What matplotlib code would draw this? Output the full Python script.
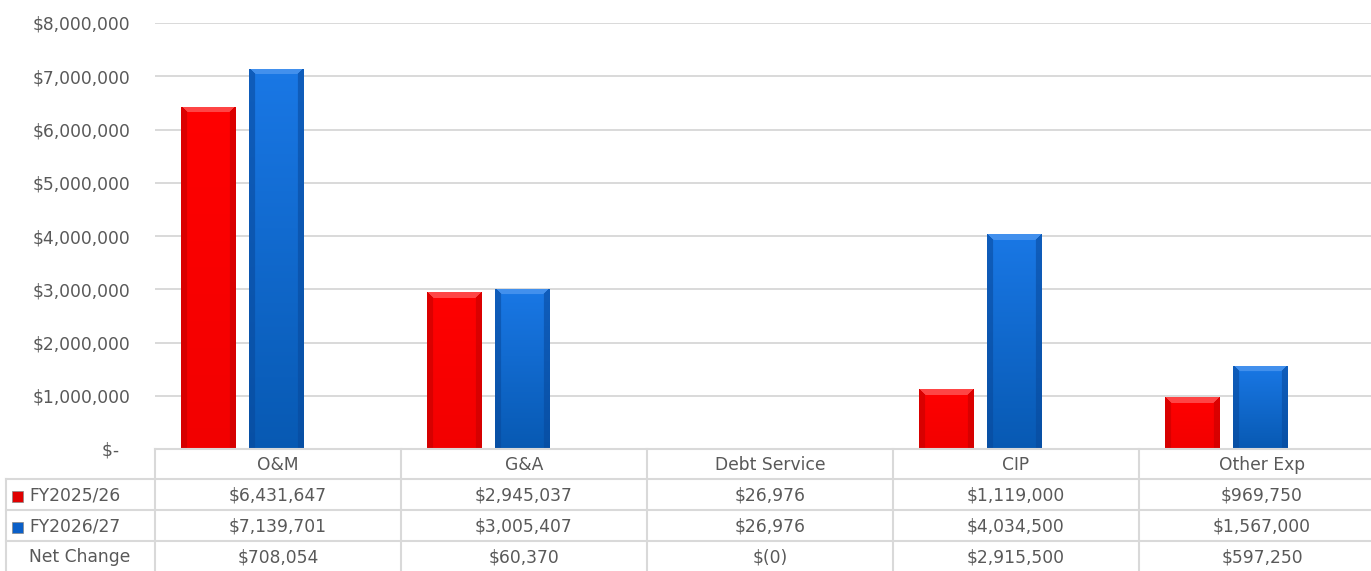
# Budget comparison: bars + data table underneath
import numpy as np
import matplotlib.pyplot as plt

categories = ['O&M', 'G&A', 'Debt Service', 'CIP', 'Other Exp']
fy2526 = [6431647, 2945037, 26976, 1119000, 969750]
fy2627 = [7139701, 3005407, 26976, 4034500, 1567000]
net_change = ['$708,054', '$60,370', '$(0)', '$2,915,500', '$597,250']
series_names = ['FY2025/26', 'FY2026/27']
yticks = [0, 1000000, 2000000, 3000000, 4000000, 5000000, 6000000, 7000000, 8000000]

W, H = 1371, 571
TXT = '#595959'
GRID = '#D9D9D9'
plt.rcParams['font.family'] = ['DejaVu Sans']
FS = 12.3

fig = plt.figure(figsize=(W / 100, H / 100), dpi=100)

# bar area (pixel layout of the reference)
left, right, top, bottom = 155, 1371, 23, 449
ax = fig.add_axes([left / W, 1 - bottom / H, (right - left) / W, (bottom - top) / H])
col_w = 246.0
xmin = -(242 - left) / col_w
ax.set_xlim(xmin, xmin + (right - left) / col_w)
ax.set_ylim(0, 8000000)
ax.set_yticks(yticks)
ax.set_yticklabels(['$-  '] + ['${:,}'.format(v) for v in yticks[1:]])
ax.tick_params(axis='y', length=0, pad=18, labelsize=FS, labelcolor=TXT)
ax.tick_params(axis='x', length=0, labelbottom=False)
ax.grid(axis='y', color=GRID, lw=1.4)
ax.set_axisbelow(True)
for s in ax.spines.values():
    s.set_visible(False)

x = np.arange(len(categories))
off, bw = 0.138, 0.22
red_bars = ax.bar(x - off, fy2526, bw, color='#F00000', zorder=2)
blue_bars = ax.bar(x + off, fy2627, bw, color='#0A5FC8', zorder=2)

px_per_unit_y = (bottom - top) / 8000000.0


def bevel_img(wpx, hpx, top_c, bot_c, edge_c, hi_c, b=6):
    wpx = max(int(round(wpx)), 2)
    hpx = max(int(round(hpx)), 2)
    t = np.linspace(0, 1, hpx)[:, None, None]
    img = np.array(top_c) * (1 - t) + np.array(bot_c) * t
    img = np.repeat(img, wpx, axis=1)
    xs = np.arange(wpx)
    ys = np.arange(hpx)
    dl = xs[None, :]
    dr = (wpx - 1 - xs)[None, :]
    dt = ys[:, None]
    side = np.minimum(dl, dr)
    edge_mask = (side < b) & (side <= dt)
    top_mask = (dt < b) & (dt < side)
    img[edge_mask] = img[edge_mask] * 0.45 + np.array(edge_c) * 0.55
    img[top_mask] = img[top_mask] * 0.35 + np.array(hi_c) * 0.65
    return img


def shade(bars, top_c, bot_c, edge_c, hi_c):
    for p in bars:
        x0, w, h = p.get_x(), p.get_width(), p.get_height()
        wpx = w * col_w
        hpx = h * px_per_unit_y
        img = bevel_img(wpx, hpx, top_c, bot_c, edge_c, hi_c)
        im = ax.imshow(img, extent=(x0, x0 + w, 0, h), aspect='auto',
                       origin='upper', zorder=3, interpolation='bilinear')
        im.set_clip_path(p)
        if hpx < 4:
            im.set_alpha(0.25)
            p.set_alpha(0.25)


shade(red_bars, (1.0, 0.0, 0.0), (0.95, 0.0, 0.0), (0.75, 0.0, 0.0), (1.0, 0.42, 0.42))
shade(blue_bars, (0.10, 0.47, 0.90), (0.03, 0.35, 0.70), (0.03, 0.28, 0.60), (0.35, 0.62, 0.95))

# data table drawn on a full-figure overlay in pixel coordinates
tab = fig.add_axes([0, 0, 1, 1], zorder=5)
tab.set_xlim(0, W)
tab.set_ylim(H, 0)
tab.axis('off')
tab.patch.set_alpha(0)

row_y = [449, 479, 510, 541, 572]
col_x = [left + col_w * i for i in range(len(categories) + 1)]
lw = 1.5
# horizontal lines
tab.plot([left, W], [row_y[0]] * 2, color=GRID, lw=lw)
for ry in row_y[1:4]:
    tab.plot([6, W], [ry, ry], color=GRID, lw=lw)
# vertical lines
tab.plot([6, 6], [row_y[1], H], color=GRID, lw=lw)
for cx in col_x:
    if cx <= W:
        tab.plot([cx, cx], [row_y[0], H], color=GRID, lw=lw)

rows = [['${:,}'.format(v) for v in fy2526],
        ['${:,}'.format(v) for v in fy2627],
        net_change]
for i, c in enumerate(categories):
    cx = col_x[i] + col_w / 2
    tab.text(cx, (row_y[0] + row_y[1]) / 2 + 1, c, ha='center', va='center', fontsize=FS, color=TXT)
    for r in range(3):
        tab.text(cx, (row_y[r + 1] + row_y[r + 2]) / 2 + 1, rows[r][i], ha='center', va='center',
                 fontsize=FS, color=TXT)

labels = series_names + ['Net Change']
marker_cols = ['#E00000', '#0A5FC8', None]
for r, lab in enumerate(labels):
    cy = (row_y[r + 1] + row_y[r + 2]) / 2 + 1
    tab.text(29, cy, lab, ha='left', va='center', fontsize=FS, color=TXT)
    if marker_cols[r]:
        tab.add_patch(plt.Rectangle((12, cy - 5), 11, 11, facecolor=marker_cols[r],
                                    edgecolor='#888888', lw=0.5))

fig.savefig('out.png', dpi=100)
